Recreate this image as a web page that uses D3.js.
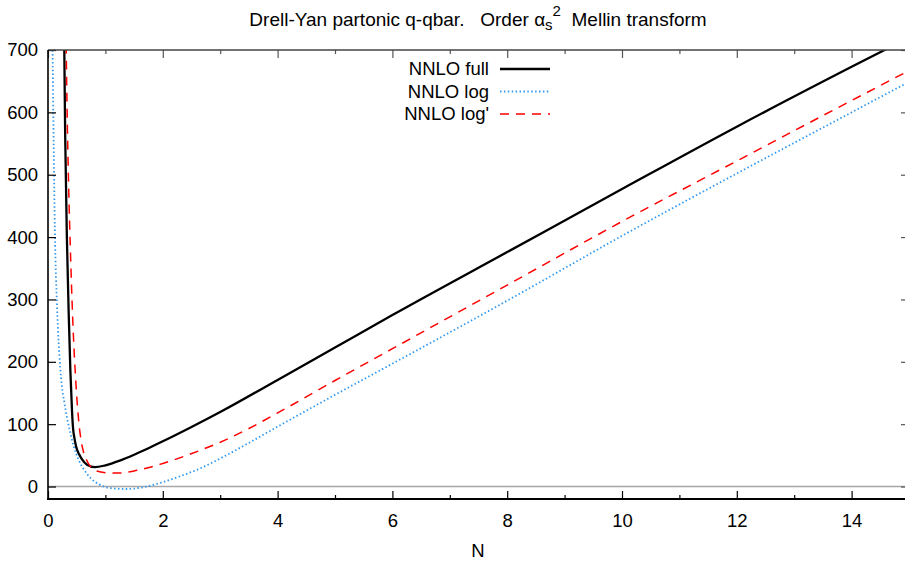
<!DOCTYPE html>
<html>
<head>
<meta charset="utf-8">
<script src="https://cdn.jsdelivr.net/npm/d3@7"></script>
<style>
  html, body { margin: 0; padding: 0; background: #fff; }
  svg { display: block; font-family: "Liberation Sans", Arial, Helvetica, sans-serif; }
</style>
</head>
<body>
<svg id="chart" width="905" height="565"></svg>
<script>
// ---- data: partonic Mellin moments vs N ----
const nFull = [0.275, 0.284, 0.30, 0.33, 0.36, 0.39, 0.418, 0.435, 0.46, 0.49, 0.54, 0.59, 0.68, 0.82, 1.0, 1.25, 1.5, 1.75, 2, 2.5, 3, 4, 5, 6, 8, 10, 12, 14, 15];
const valFull = [780, 700, 560, 395, 280, 185, 122, 95, 78, 64, 52, 44, 35, 31, 34, 41.5, 51, 61.5, 72.5, 95.5, 119.5, 171, 223, 275, 376, 477, 577, 673, 720];

const nLog = [0.06, 0.08, 0.10, 0.12, 0.157, 0.185, 0.214, 0.24, 0.284, 0.336, 0.377, 0.446, 0.533, 0.62, 0.737, 0.88, 1.085, 1.376, 1.67, 1.96, 2.36, 2.65, 3, 3.5, 4, 5, 6, 8, 10, 12, 14, 15];
const valLog = [900, 700, 540, 410, 290, 232, 190, 163, 135, 108, 91, 65, 43, 28, 14, 4, -2.5, -4, -1, 6, 18.5, 29, 45, 70, 96, 147, 197, 298, 402, 502, 600, 649];

const nLogP = [0.31, 0.315, 0.33, 0.36, 0.39, 0.43, 0.48, 0.535, 0.58, 0.62, 0.68, 0.74, 0.85, 1.03, 1.2, 1.5, 1.78, 2, 2.36, 2.65, 3, 3.5, 4, 5, 6, 8, 10, 12, 14, 15];
const valLogP = [760, 720, 620, 480, 380, 270, 175, 105, 72, 55, 41, 32, 25, 22, 21.5, 25, 31, 37, 48, 58, 71, 93, 118, 170, 221, 323, 425, 522, 619, 667];

const seriesNames = ["NNLO full", "NNLO log", "NNLO log'"];
const xTickValues = [0, 2, 4, 6, 8, 10, 12, 14];
const xMinorValues = [1, 3, 5, 7, 9, 11, 13];
const yTickValues = [0, 100, 200, 300, 400, 500, 600, 700];

// ---- layout ----
const svg = d3.select("#chart");
const plotLeft = 48, plotRight = 909, plotTop = 50, plotBottom = 499;

const x = d3.scaleLinear().domain([0, 15]).range([plotLeft, plotRight]);
const y = d3.scaleLinear().domain([-20, 700]).range([plotBottom, plotTop]);

const series = [
  { name: seriesNames[0], n: nFull, v: valFull, color: "#000", width: 2.3, dash: null },
  { name: seriesNames[1], n: nLog, v: valLog, color: "#3399ee", width: 1.8, dash: "1.5,2.4" },
  { name: seriesNames[2], n: nLogP, v: valLogP, color: "#ff0000", width: 1.5, dash: "9,7" }
];

svg.append("defs").append("clipPath").attr("id", "plotClip")
  .append("rect").attr("x", plotLeft).attr("y", plotTop)
  .attr("width", plotRight - plotLeft).attr("height", plotBottom - plotTop);

// title with alpha_s^2
const title = svg.append("text")
  .attr("x", 478).attr("y", 25.5)
  .attr("text-anchor", "middle")
  .style("font-size", "19px")
  .attr("fill", "#000");
title.append("tspan").text("Drell-Yan partonic q-qbar.\u00a0\u00a0 Order ");
title.append("tspan").text("\u03b1");
title.append("tspan").attr("dy", 4).style("font-size", "15px").text("s");
title.append("tspan").attr("dy", -14).style("font-size", "15px").text("2");
title.append("tspan").attr("dy", 10).text("\u00a0 Mellin transform");

// zero line
svg.append("line")
  .attr("x1", plotLeft).attr("x2", plotRight)
  .attr("y1", y(0)).attr("y2", y(0))
  .attr("stroke", "#a6a6a6").attr("stroke-width", 1.6);

// curves
const line = d3.line()
  .x((d) => x(d[0]))
  .y((d) => y(d[1]))
  .curve(d3.curveMonotoneX);

const curves = svg.append("g").attr("clip-path", "url(#plotClip)");
series.forEach((s) => {
  const pts = s.n.map((n, i) => [n, s.v[i]]);
  curves.append("path")
    .datum(pts)
    .attr("d", line)
    .attr("fill", "none")
    .attr("stroke", s.color)
    .attr("stroke-width", s.width)
    .attr("stroke-dasharray", s.dash);
});

// axes with inward ticks
const axBottom = d3.axisBottom(x).tickValues(xTickValues).tickSizeInner(-8).tickSizeOuter(0).tickPadding(15);
const gB = svg.append("g").attr("transform", `translate(0,${plotBottom})`).call(axBottom);
gB.select(".domain").remove();
gB.selectAll("line").attr("stroke", "#000").attr("stroke-width", 1.2);
gB.selectAll("text").style("font-size", "18.5px").attr("fill", "#000").attr("font-family", null);

const axBottomMinor = d3.axisBottom(x).tickValues(xMinorValues).tickSizeInner(-4).tickSizeOuter(0).tickFormat("");
const gBm = svg.append("g").attr("transform", `translate(0,${plotBottom})`).call(axBottomMinor);
gBm.select(".domain").remove();
gBm.selectAll("line").attr("stroke", "#000").attr("stroke-width", 1.2);

const axTop = d3.axisTop(x).tickValues(xTickValues).tickSizeInner(-8).tickSizeOuter(0).tickFormat("");
const gT = svg.append("g").attr("transform", `translate(0,${plotTop})`).call(axTop);
gT.select(".domain").remove();
gT.selectAll("line").attr("stroke", "#555").attr("stroke-width", 1.2);

const axTopMinor = d3.axisTop(x).tickValues(xMinorValues).tickSizeInner(-4).tickSizeOuter(0).tickFormat("");
const gTm = svg.append("g").attr("transform", `translate(0,${plotTop})`).call(axTopMinor);
gTm.select(".domain").remove();
gTm.selectAll("line").attr("stroke", "#555").attr("stroke-width", 1.2);

const axLeft = d3.axisLeft(y).tickValues(yTickValues).tickSizeInner(-8).tickSizeOuter(0).tickPadding(10);
const gL = svg.append("g").attr("transform", `translate(${plotLeft},0)`).call(axLeft);
gL.select(".domain").remove();
gL.selectAll("line").attr("stroke", "#000").attr("stroke-width", 1.2);
gL.selectAll("text").style("font-size", "18.5px").attr("fill", "#000").attr("font-family", null);

const axRight = d3.axisRight(y).tickValues(yTickValues).tickSizeInner(-8).tickSizeOuter(0).tickFormat("");
const gR = svg.append("g").attr("transform", `translate(${plotRight},0)`).call(axRight);
gR.select(".domain").remove();
gR.selectAll("line").attr("stroke", "#555").attr("stroke-width", 1.2);

// frame
svg.append("line").attr("x1", plotLeft).attr("x2", plotRight).attr("y1", plotTop).attr("y2", plotTop)
  .attr("stroke", "#444").attr("stroke-width", 1.6);
svg.append("line").attr("x1", plotLeft).attr("x2", plotLeft).attr("y1", plotTop).attr("y2", plotBottom)
  .attr("stroke", "#000").attr("stroke-width", 1.6);
svg.append("line").attr("x1", plotLeft - 1).attr("x2", plotRight).attr("y1", plotBottom).attr("y2", plotBottom)
  .attr("stroke", "#000").attr("stroke-width", 2);
svg.append("line").attr("x1", plotRight).attr("x2", plotRight).attr("y1", plotTop).attr("y2", plotBottom)
  .attr("stroke", "#444").attr("stroke-width", 1.6);

// axis title
svg.append("text")
  .attr("x", 478).attr("y", 557)
  .attr("text-anchor", "middle")
  .style("font-size", "18.5px")
  .text("N");

// legend
const legend = svg.append("g");
series.forEach((s, i) => {
  const ly = 69 + i * 22.5;
  legend.append("text")
    .attr("x", 489).attr("y", ly)
    .attr("dy", "0.35em")
    .attr("text-anchor", "end")
    .style("font-size", "18.5px")
    .text(s.name);
  legend.append("line")
    .attr("x1", 500).attr("x2", 550)
    .attr("y1", ly).attr("y2", ly)
    .attr("stroke", s.color)
    .attr("stroke-width", s.width)
    .attr("stroke-dasharray", s.dash);
});
</script>
</body>
</html>
